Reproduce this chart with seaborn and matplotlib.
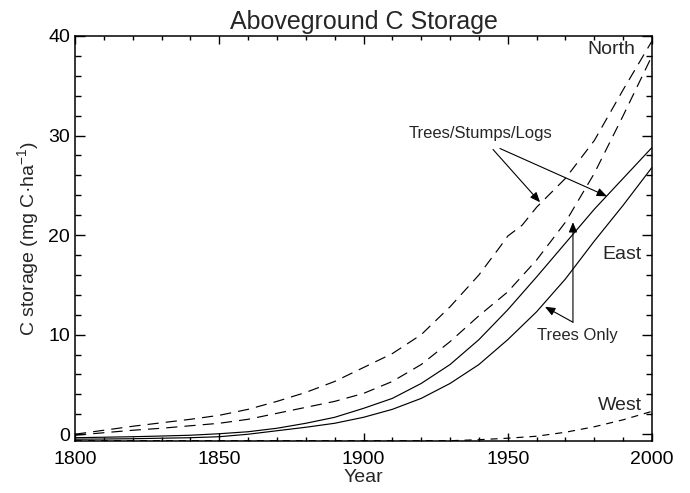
import matplotlib
matplotlib.use("Agg")
import matplotlib.pyplot as plt
import seaborn as sns
import pandas as pd
from matplotlib.ticker import MultipleLocator

# ---- data ----
north_tsl_years = [1800, 1810, 1820, 1830, 1840, 1850, 1860, 1870, 1880, 1890, 1900,
                   1910, 1920, 1930, 1940, 1947, 1950, 1955, 1960, 1970, 1980, 1990, 2000]
north_tsl = [0.0, 0.4, 0.8, 1.15, 1.5, 1.9, 2.5, 3.3, 4.2, 5.3, 6.7,
             8.1, 10.0, 12.8, 16.0, 18.7, 19.9, 21.0, 22.8, 25.7, 29.5, 34.6, 39.5]

years = [1800, 1810, 1820, 1830, 1840, 1850, 1860, 1870, 1880, 1890, 1900,
         1910, 1920, 1930, 1940, 1950, 1960, 1970, 1980, 1990, 2000]
north_trees = [-0.1, 0.15, 0.4, 0.6, 0.85, 1.1, 1.5, 2.1, 2.7, 3.3, 4.1,
               5.3, 7.0, 9.3, 11.9, 14.3, 17.5, 21.3, 26.2, 32.0, 38.0]
east_tsl = [-0.35, -0.3, -0.25, -0.18, -0.1, 0.05, 0.25, 0.6, 1.1, 1.7, 2.6,
            3.6, 5.1, 7.0, 9.5, 12.5, 15.8, 19.2, 22.6, 25.7, 28.8]
east_trees = [-0.5, -0.48, -0.45, -0.4, -0.35, -0.25, 0.0, 0.35, 0.7, 1.1, 1.7,
              2.5, 3.6, 5.1, 7.0, 9.5, 12.3, 15.6, 19.4, 23.0, 26.8]
west = [-0.65, -0.65, -0.65, -0.65, -0.65, -0.65, -0.65, -0.65, -0.65, -0.65, -0.65,
        -0.65, -0.65, -0.65, -0.55, -0.4, -0.2, 0.2, 0.75, 1.45, 2.3]

xticks = [1800, 1850, 1900, 1950, 2000]
yticks = [0, 10, 20, 30, 40]

# ---- style ----
sns.set_style("ticks")
plt.rcParams['font.family'] = ['Liberation Sans', 'DejaVu Sans']
plt.rcParams['mathtext.fontset'] = 'custom'
plt.rcParams['mathtext.rm'] = 'Liberation Sans'
plt.rcParams['mathtext.it'] = 'Liberation Sans:italic'
plt.rcParams['mathtext.default'] = 'regular'

fig = plt.figure(figsize=(6.9, 4.93), dpi=100)
ax = fig.add_axes([75/690, 1-441/493, (652-75)/690, (441-36)/493])

long_dash = (0, (9.5, 6))
short_dash = (0, (6, 5))
lw = 0.85

sns.lineplot(x=north_tsl_years, y=north_tsl, ax=ax, color='black', lw=lw, linestyle=long_dash)
sns.lineplot(x=years, y=north_trees, ax=ax, color='black', lw=lw, linestyle=long_dash)
sns.lineplot(x=years, y=east_tsl, ax=ax, color='black', lw=lw, linestyle='-')
sns.lineplot(x=years, y=east_trees, ax=ax, color='black', lw=lw, linestyle='-')
sns.lineplot(x=years, y=west, ax=ax, color='black', lw=lw, linestyle=short_dash)

ax.set_xlim(1800, 2000)
ax.set_ylim(-0.68, 40)
ax.set_xticks(xticks)
ax.set_xticklabels([str(v) for v in xticks])
ax.set_yticks(yticks)
ax.set_yticklabels([str(v) for v in yticks])
ax.xaxis.set_minor_locator(MultipleLocator(10))
ax.yaxis.set_minor_locator(MultipleLocator(2))

ax.tick_params(axis='both', which='both', direction='in', top=True, right=True,
               colors='black', width=1.0, labelsize=14)
ax.tick_params(axis='x', which='major', length=5.8, pad=7)
ax.tick_params(axis='x', which='minor', length=2.9)
ax.tick_params(axis='y', which='major', length=7.2, pad=3.5)
ax.tick_params(axis='y', which='minor', length=4.0)
for s in ax.spines.values():
    s.set_visible(True)
    s.set_color('black')
    s.set_linewidth(1.1)

ax.set_xlabel('Year', fontsize=14, labelpad=1)
ax.set_ylabel('C storage (mg C·ha$^{-1}$)', fontsize=14, labelpad=5)
ax.set_title('Aboveground C Storage', fontsize=18, pad=5)

# region labels
ax.text(1994.1, 38.2, 'North', fontsize=14, ha='right', va='baseline')
ax.text(1996.5, 17.6, 'East', fontsize=14, ha='right', va='baseline')
ax.text(1996.4, 2.4, 'West', fontsize=14, ha='right', va='baseline')

# annotations
ax.text(1940.5, 29.8, 'Trees/Stumps/Logs', fontsize=12, ha='center', va='baseline')
ax.text(1974.0, 9.5, 'Trees Only', fontsize=12, ha='center', va='baseline')

astyle = dict(arrowstyle='-|>,head_length=0.6,head_width=0.25', color='black',
              lw=0.8, shrinkA=0, shrinkB=0)
ax.annotate('', xy=(1961.2, 23.3), xytext=(1944.9, 28.6), arrowprops=astyle)
ax.annotate('', xy=(1984.4, 23.9), xytext=(1947.3, 28.7), arrowprops=astyle)
ax.annotate('', xy=(1962.9, 12.8), xytext=(1972.6, 11.25), arrowprops=astyle)
ax.annotate('', xy=(1972.6, 21.3), xytext=(1972.6, 11.25), arrowprops=astyle)

fig.savefig('out.png', dpi=100)
